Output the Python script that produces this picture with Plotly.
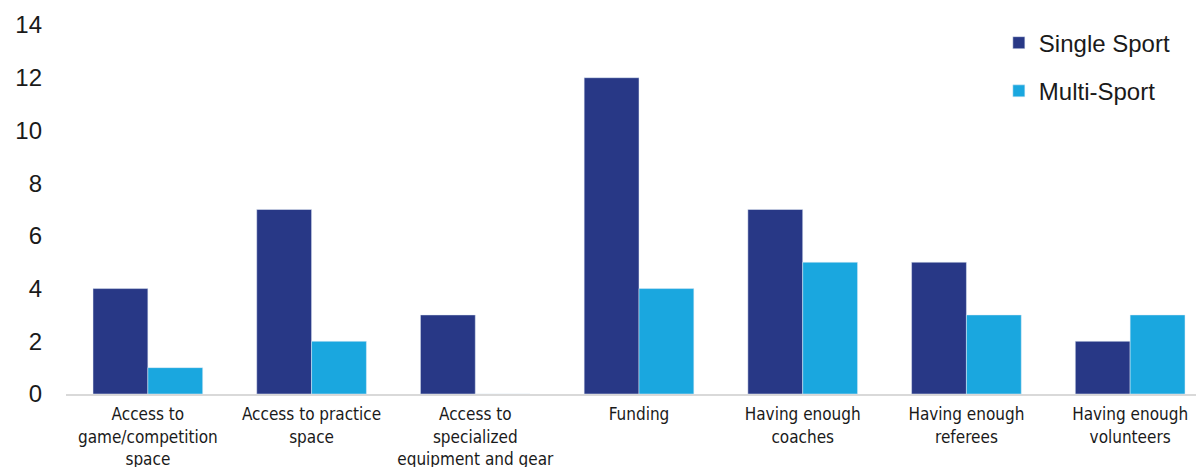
import plotly.graph_objects as go

categories = [
    "Access to<br>game/competition<br>space",
    "Access to practice<br>space",
    "Access to<br>specialized<br>equipment and gear",
    "Funding",
    "Having enough<br>coaches",
    "Having enough<br>referees",
    "Having enough<br>volunteers",
]
single_sport = [4, 7, 3, 12, 7, 5, 2]
multi_sport = [1, 2, 0, 4, 5, 3, 3]

fig = go.Figure()
fig.add_trace(go.Bar(x=categories, y=single_sport, name="Single Sport",
                     marker_color="#283886", legendgroup="a"))
fig.add_trace(go.Bar(x=categories, y=multi_sport, name="Multi-Sport",
                     marker_color="#1AA7DF", legendgroup="b"))

fig.update_layout(
    width=1204, height=467,
    margin=dict(l=58, r=0, t=17, b=81),
    plot_bgcolor="white", paper_bgcolor="white",
    barmode="group", bargap=0.33, bargroupgap=0,
    font=dict(family="Liberation Sans", color="#1a1a1a"),
    legend=dict(x=0.814, y=1.012, xanchor="left", yanchor="top",
                font=dict(size=24, family="Liberation Sans"),
                tracegroupgap=14, bgcolor="rgba(0,0,0,0)"),
    yaxis=dict(range=[0, 14], dtick=2, showgrid=False, zeroline=False,
               showline=False, ticks="", ticklabelstandoff=23,
               tickfont=dict(size=24, family="Liberation Sans")),
    xaxis=dict(showline=True, linecolor="#d9d9d9", linewidth=2, ticks="",
               ticklabelstandoff=4,
               tickfont=dict(size=17, family="Liberation Sans Narrow, Arial Narrow, DejaVu Sans Condensed, Roboto Condensed, sans-serif"),
               showgrid=False),
)
fig.write_html("out.html")
